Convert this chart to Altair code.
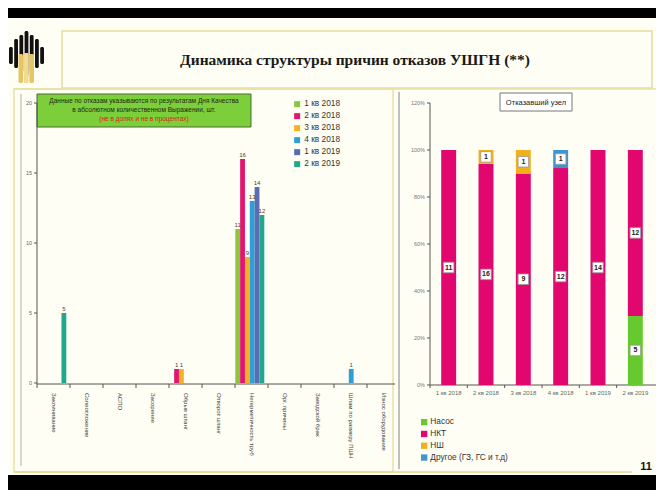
import altair as alt
import pandas as pd

# ---------------- data ----------------
causes = ["Заклинивание", "Солеотложение", "АСПО", "Засорение", "Обрыв штанг",
          "Отворот штанг", "Негерметичность труб", "Орг. причины", "Заводской брак",
          "Шлам по размеру ПШН", "Износ оборудования"]
quarters = ["1 кв 2018", "2 кв 2018", "3 кв 2018", "4 кв 2018", "1 кв 2019", "2 кв 2019"]
q1_2018 = [0, 0, 0, 0, 0, 0, 11, 0, 0, 0, 0]
q2_2018 = [0, 0, 0, 0, 1, 0, 16, 0, 0, 0, 0]
q3_2018 = [0, 0, 0, 0, 1, 0, 9, 0, 0, 0, 0]
q4_2018 = [0, 0, 0, 0, 0, 0, 13, 0, 0, 1, 0]
q1_2019 = [0, 0, 0, 0, 0, 0, 14, 0, 0, 0, 0]
q2_2019 = [5, 0, 0, 0, 0, 0, 12, 0, 0, 0, 0]
left_colors = ["#8cc63f", "#e3166f", "#f4b223", "#2e9fd8", "#5a6db3", "#1fa88c"]
left_ticks = [0, 5, 10, 15, 20]

parts = ["Насос", "НКТ", "НШ", "Другое (ГЗ, ГС и т.д)"]
nasos = [0, 0, 0, 0, 0, 5]
nkt = [11, 16, 9, 12, 14, 12]
nsh = [0, 1, 1, 0, 0, 0]
drugoe = [0, 0, 0, 1, 0, 0]
part_colors = ["#66c92e", "#e2076f", "#f2b01e", "#3f95cf"]
pct_ticks = [0, 0.2, 0.4, 0.6, 0.8, 1.0, 1.2]

title_text = "Динамика структуры причин отказов УШГН (**)"
note_lines = ["Данные по отказам указываются по результатам Дня Качества",
              "в абсолютном количественном Выражении, шт.",
              "(не в долях и не в процентах)"]

FONT = "Liberation Sans"

# ---------------- tables ----------------
series = [q1_2018, q2_2018, q3_2018, q4_2018, q1_2019, q2_2019]
rows = []
for q, vals in zip(quarters, series):
    for c, v in zip(causes, vals):
        if v:
            rows.append({"cause": c, "quarter": q, "value": v})
left_df = pd.DataFrame(rows)

rrows = []
for i, q in enumerate(quarters):
    vals = [nasos[i], nkt[i], nsh[i], drugoe[i]]
    tot = sum(vals)
    acc = 0
    for p, v in zip(parts, vals):
        if v:
            rrows.append({"quarter": q, "part": p, "val": v,
                          "y0": acc / tot, "y1": (acc + v) / tot,
                          "mid": (acc + v / 2) / tot})
        acc += v
right_df = pd.DataFrame(rrows)

# ---------------- decorations (pixel positions) ----------------
deco_rects = pd.DataFrame([
    dict(x=0, x2=648, y=0, y2=10, fill="#000000", stroke="transparent", sw=0),
    dict(x=0, x2=648, y=467, y2=482, fill="#000000", stroke="transparent", sw=0),
    dict(x=54, x2=644, y=23, y2=80, fill="transparent", stroke="#e6dc9c", sw=1.5),
    dict(x=6, x2=385, y=81, y2=464, fill="transparent", stroke="#e9e0a6", sw=1.5),
    dict(x=29, x2=243, y=86, y2=119, fill="#7ccf3b", stroke="#4a6a30", sw=1),
    dict(x=492, x2=564, y=85, y2=103, fill="#ffffff", stroke="#777777", sw=1),
])
logo_cols = pd.DataFrame([
    dict(x=1.0, x2=4.8, y=39, y2=56, fill="#111111"),
    dict(x=6.2, x2=10.0, y=31, y2=60, fill="#111111"),
    dict(x=11.4, x2=15.2, y=27, y2=64, fill="#111111"),
    dict(x=16.6, x2=20.4, y=23, y2=68, fill="#111111"),
    dict(x=21.8, x2=25.6, y=27, y2=64, fill="#111111"),
    dict(x=27.0, x2=30.8, y=31, y2=60, fill="#111111"),
    dict(x=32.2, x2=36.0, y=39, y2=56, fill="#111111"),
    dict(x=10.5, x2=15.0, y=46, y2=75, fill="#e6c565"),
    dict(x=15.8, x2=20.6, y=45, y2=75, fill="#f1da92"),
    dict(x=21.4, x2=26.0, y=46, y2=75, fill="#e6c565"),
])
deco_lines = pd.DataFrame([
    dict(x=6, x2=648, y=81, y2=81, stroke="#e9e0a6", sw=1.5),
    dict(x=6, x2=624, y=464, y2=464, stroke="#e6d890", sw=1.5),
    dict(x=13, x2=13, y=86, y2=458, stroke="#b0b0b0", sw=1),
    dict(x=391, x2=391, y=84, y2=461, stroke="#808080", sw=1),
])

rects = alt.Chart(deco_rects).mark_rect().encode(
    x=alt.X("x:Q", scale=None, axis=None), x2="x2:Q",
    y=alt.Y("y:Q", scale=None, axis=None), y2="y2:Q",
    fill=alt.Fill("fill:N", scale=None, legend=None),
    stroke=alt.Stroke("stroke:N", scale=None, legend=None),
    strokeWidth=alt.StrokeWidth("sw:Q", scale=None, legend=None),
)
logo = alt.Chart(logo_cols).mark_rect(cornerRadius=1.5).encode(
    x=alt.X("x:Q", scale=None, axis=None), x2="x2:Q",
    y=alt.Y("y:Q", scale=None, axis=None), y2="y2:Q",
    fill=alt.Fill("fill:N", scale=None, legend=None),
)
lines = alt.Chart(deco_lines).mark_rule().encode(
    x=alt.X("x:Q", scale=None, axis=None), x2="x2:Q",
    y=alt.Y("y:Q", scale=None, axis=None), y2="y2:Q",
    stroke=alt.Stroke("stroke:N", scale=None, legend=None),
    strokeWidth=alt.StrokeWidth("sw:Q", scale=None, legend=None),
)

one = pd.DataFrame({"a": [0]})
title = alt.Chart(one).mark_text(font="Liberation Serif", fontWeight="bold", fontSize=15.5,
                                 color="#1a1a1a").encode(
    x=alt.value(347), y=alt.value(52), text=alt.value(title_text))
page_no = alt.Chart(one).mark_text(font=FONT, fontWeight="bold", fontSize=11,
                                   color="#111").encode(
    x=alt.value(638), y=alt.value(459), text=alt.value("11"))
note1 = alt.Chart(one).mark_text(font=FONT, fontSize=6.5, color="#1b2a12").encode(
    x=alt.value(136), y=alt.value(93), text=alt.value(note_lines[0]))
note2 = alt.Chart(one).mark_text(font=FONT, fontSize=6.5, color="#1b2a12").encode(
    x=alt.value(136), y=alt.value(102), text=alt.value(note_lines[1]))
note3 = alt.Chart(one).mark_text(font=FONT, fontSize=6.5, color="#d02a10").encode(
    x=alt.value(136), y=alt.value(111), text=alt.value(note_lines[2]))
node_box = alt.Chart(one).mark_text(font=FONT, fontSize=7.5, color="#222").encode(
    x=alt.value(528), y=alt.value(94.5), text=alt.value("Отказавший узел"))

# ---------------- left chart ----------------
lx = alt.Scale(domain=causes, range=[29, 392], paddingInner=0, paddingOuter=0)
ly = alt.Scale(domain=[0, 20], range=[375, 95])
loff = alt.Scale(domain=quarters, range=[0.3, 29.3], paddingInner=0, paddingOuter=0)

lbars = alt.Chart(left_df).mark_bar().encode(
    x=alt.X("cause:N", sort=causes, scale=lx, axis=None),
    xOffset=alt.XOffset("quarter:N", sort=quarters, scale=loff),
    y=alt.Y("value:Q", scale=ly, axis=None),
    color=alt.Color("quarter:N", sort=quarters,
                    scale=alt.Scale(domain=quarters, range=left_colors),
                    legend=alt.Legend(orient="none", legendX=285, legendY=92, title=None,
                                      symbolType="square", symbolSize=36, symbolStrokeWidth=0,
                                      labelFontSize=8.3, labelFont=FONT, labelColor="#333",
                                      labelOffset=3, rowPadding=3)),
)
llabels = alt.Chart(left_df).mark_text(font=FONT, fontSize=6, color="#444", dy=-4).encode(
    x=alt.X("cause:N", sort=causes, scale=lx, axis=None),
    xOffset=alt.XOffset("quarter:N", sort=quarters, scale=loff),
    y=alt.Y("value:Q", scale=ly, axis=None),
    text="value:Q",
)
ltick_df = pd.DataFrame({"v": left_ticks})
l_yaxis = alt.Chart(one).mark_rule(color="#555", strokeWidth=1).encode(
    x=alt.value(29), y=alt.value(95), y2=alt.value(376))
l_xaxis = alt.Chart(one).mark_rule(color="#555", strokeWidth=1).encode(
    x=alt.value(29), x2=alt.value(387), y=alt.value(376))
l_yticks = alt.Chart(ltick_df).mark_rule(color="#555").encode(
    x=alt.value(26), x2=alt.value(29), y=alt.Y("v:Q", scale=ly, axis=None))
l_ylabels = alt.Chart(ltick_df).mark_text(font=FONT, fontSize=5.5, color="#666",
                                          align="right", baseline="middle").encode(
    x=alt.value(24), y=alt.Y("v:Q", scale=ly, axis=None), text="v:Q")
cause_df = pd.DataFrame({"cause": causes})
l_xticks = alt.Chart(cause_df).mark_rule(color="#555").encode(
    x=alt.X("cause:N", sort=causes, scale=lx, axis=None, bandPosition=0),
    y=alt.value(376), y2=alt.value(380))
l_xlabels = alt.Chart(cause_df).mark_text(font=FONT, fontSize=6, color="#444", angle=90,
                                          align="left", baseline="middle").encode(
    x=alt.X("cause:N", sort=causes, scale=lx, axis=None),
    y=alt.value(385), text="cause:N")

left = alt.layer(l_yaxis, l_xaxis, l_yticks, l_ylabels, l_xticks, l_xlabels, lbars, llabels)

# ---------------- right chart ----------------
rx = alt.Scale(domain=quarters, range=[422, 646], paddingInner=0, paddingOuter=0)
ry = alt.Scale(domain=[0, 1.2], range=[377, 95])

rbars = alt.Chart(right_df).mark_bar(width=alt.RelativeBandSize(0.4)).encode(
    x=alt.X("quarter:N", sort=quarters, scale=rx, axis=None),
    y=alt.Y("y0:Q", scale=ry, axis=None), y2="y1:Q",
    color=alt.Color("part:N", sort=parts,
                    scale=alt.Scale(domain=parts, range=part_colors),
                    legend=alt.Legend(orient="none", legendX=412, legendY=410, title=None,
                                      symbolType="square", symbolSize=40, symbolStrokeWidth=0,
                                      labelFontSize=8.3, labelFont=FONT, labelColor="#333",
                                      labelOffset=2, rowPadding=2.8)),
)
rboxes = alt.Chart(right_df).mark_point(shape="square", size=110, filled=True, fill="#ffffff",
                                        stroke="#999", strokeWidth=0.8, opacity=1).encode(
    x=alt.X("quarter:N", sort=quarters, scale=rx, axis=None),
    y=alt.Y("mid:Q", scale=ry, axis=None),
)
rtext = alt.Chart(right_df).mark_text(font=FONT, fontSize=7, fontWeight="bold",
                                      color="#222").encode(
    x=alt.X("quarter:N", sort=quarters, scale=rx, axis=None),
    y=alt.Y("mid:Q", scale=ry, axis=None), text="val:Q",
)
pct_df = pd.DataFrame({"v": pct_ticks})
r_yaxis = alt.Chart(one).mark_rule(color="#555").encode(
    x=alt.value(422), y=alt.value(95), y2=alt.value(377))
r_xaxis = alt.Chart(one).mark_rule(color="#555").encode(
    x=alt.value(422), x2=alt.value(648), y=alt.value(377))
r_yticks = alt.Chart(pct_df).mark_rule(color="#555").encode(
    x=alt.value(419), x2=alt.value(422), y=alt.Y("v:Q", scale=ry, axis=None))
r_ylabels = alt.Chart(pct_df).mark_text(font=FONT, fontSize=5.5, color="#777",
                                        align="right", baseline="middle").encode(
    x=alt.value(417), y=alt.Y("v:Q", scale=ry, axis=None),
    text=alt.Text("v:Q", format=".0%"))
q_df = pd.DataFrame({"quarter": quarters})
r_xticks = alt.Chart(q_df).mark_rule(color="#555").encode(
    x=alt.X("quarter:N", sort=quarters, scale=rx, axis=None, bandPosition=0),
    y=alt.value(377), y2=alt.value(380))
r_xlabels = alt.Chart(q_df).mark_text(font=FONT, fontSize=6, color="#666",
                                      baseline="middle").encode(
    x=alt.X("quarter:N", sort=quarters, scale=rx, axis=None),
    y=alt.value(385), text="quarter:N")

right = alt.layer(r_yaxis, r_xaxis, r_yticks, r_ylabels, r_xticks, r_xlabels, rbars, rboxes, rtext)

chart = alt.layer(
    rects, lines, logo, title, page_no, note1, note2, note3, node_box, left, right
).resolve_scale(
    x="independent", y="independent", color="independent"
).properties(
    width=648, height=482,
    autosize=alt.AutoSizeParams(type="none"),
    padding=0,
    background="#fffef4",
).configure_view(strokeWidth=0)

chart.save("out.html", embed_options={"renderer": "svg", "actions": False})
